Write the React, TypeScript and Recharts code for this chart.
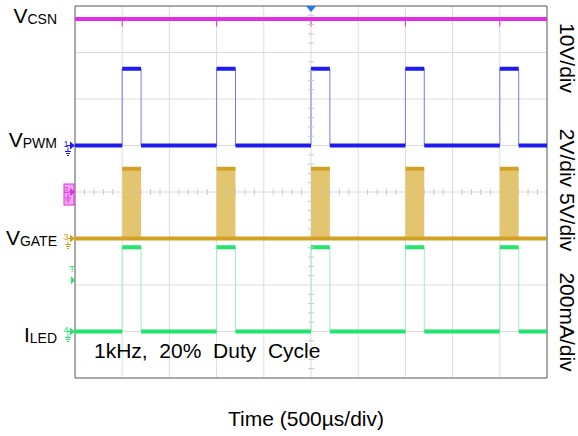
import React from 'react';
import {
  ComposedChart,
  Line,
  Area,
  Scatter,
  XAxis,
  YAxis,
  CartesianGrid,
  ReferenceArea,
  ReferenceDot,
} from 'recharts';

const FONT = '"Liberation Sans", Arial, Helvetica, sans-serif';

// ---- axes (500 µs/div horizontally, 8 vertical divisions) ----
const timeTicksUs = [-2500, -2000, -1500, -1000, -500, 0, 500, 1000, 1500, 2000, 2500];
const divTicks = [0, 1, 2, 3, 4, 5, 6, 7, 8];
const minorTimesUs = [
  -2400, -2300, -2200, -2100, -1900, -1800, -1700, -1600, -1400, -1300, -1200, -1100,
  -900, -800, -700, -600, -400, -300, -200, -100, 100, 200, 300, 400, 600, 700, 800, 900,
  1100, 1200, 1300, 1400, 1600, 1700, 1800, 1900, 2100, 2200, 2300, 2400,
];
const minorDivs = [
  0.2, 0.4, 0.6, 0.8, 1.2, 1.4, 1.6, 1.8, 2.2, 2.4, 2.6, 2.8, 3.2, 3.4, 3.6, 3.8,
  4.2, 4.4, 4.6, 4.8, 5.2, 5.4, 5.6, 5.8, 6.2, 6.4, 6.6, 6.8, 7.2, 7.4, 7.6, 7.8,
];

// ---- waveform values ----
const pulseStartUs = [-2000, -1000, 0, 1000, 2000];
const pulseEndUs = [-1800, -800, 200, 1200, 2200];

const vcsnV = 37.2;
const vcsnDipV = 35.6;
const pwmLowV = 0;
const pwmHighV = 3.3;
const gateLowV = 0;
const gateHighV = 7.5;
const ledLowMa = 0;
const ledHighMa = 362;
const ledTriggerMa = 220;

// channel scales: [min, max] over 8 divisions with ground position
const csnDomain = [-40, 40]; // 10 V/div, ground at centre
const pwmDomain = [-10, 6]; // 2 V/div
const gateDomain = [-15, 25]; // 5 V/div
const ledDomain = [-200, 1400]; // 200 mA/div

const T0 = timeTicksUs[0];
const T1 = timeTicksUs[timeTicksUs.length - 1];

type P = { t: number; v: number | null };

function stepWave(low: number, high: number): P[] {
  const pts: P[] = [{ t: T0, v: low }];
  pulseStartUs.forEach((s, i) => {
    const e = pulseEndUs[i];
    pts.push({ t: s, v: low }, { t: s, v: high }, { t: e, v: high }, { t: e, v: low });
  });
  pts.push({ t: T1, v: low });
  return pts;
}

function levelSegments(low: number, high: number): P[] {
  const pts: P[] = [{ t: T0, v: low }];
  pulseStartUs.forEach((s, i) => {
    const e = pulseEndUs[i];
    pts.push({ t: s, v: low }, { t: s, v: null }, { t: s, v: high }, { t: e, v: high }, { t: e, v: null }, { t: e, v: low });
  });
  pts.push({ t: T1, v: low });
  return pts;
}

function gateLevels(): P[] {
  const pts: P[] = [{ t: T0, v: gateLowV }, { t: T1, v: gateLowV }, { t: T1, v: null }];
  pulseStartUs.forEach((s, i) => {
    pts.push({ t: s, v: gateHighV }, { t: pulseEndUs[i], v: gateHighV }, { t: pulseEndUs[i], v: null });
  });
  return pts;
}

const csnThick: P[] = [{ t: T0, v: vcsnV }, { t: T1, v: vcsnV }];
const csnDips: P[] = pulseStartUs.flatMap((s) => [
  { t: s, v: vcsnV },
  { t: s, v: vcsnDipV },
  { t: s, v: null },
]);
const pwmEdges = stepWave(pwmLowV, pwmHighV);
const pwmLevels = levelSegments(pwmLowV, pwmHighV);
const gateFill = stepWave(gateLowV, gateHighV);
const gateLines = gateLevels();
const ledEdges = stepWave(ledLowMa, ledHighMa);
const ledLevels = levelSegments(ledLowMa, ledHighMa);

const hTickPts = minorTimesUs.map((t) => ({ t, g: 4 }));
const vTickPts = minorDivs.map((g) => ({ t: 0, g }));

const MAGENTA = '#e42ee4';
const BLUE = '#1c1cef';
const BLUE_EDGE = '#7a7af5';
const GOLD = '#d3a224';
const GOLD_FILL = '#e4c56f';
const GREEN = '#22e46e';
const GREEN_EDGE = '#9af2bd';

const GroundSym = ({ x, y, color }: { x: number; y: number; color: string }) => (
  <g stroke={color} strokeWidth={1}>
    <line x1={x} y1={y} x2={x} y2={y + 4} />
    <line x1={x - 3} y1={y + 4} x2={x + 3} y2={y + 4} />
    <line x1={x - 2} y1={y + 6} x2={x + 2} y2={y + 6} />
    <line x1={x - 1} y1={y + 8} x2={x + 1} y2={y + 8} />
  </g>
);

const makeMarker = (n: string, color: string, boxed?: boolean) => (p: any) => {
  const cx = p.cx;
  const cy = p.cy;
  return (
    <g>
      {boxed ? (
        <rect x={cx - 11} y={cy - 8} width={10} height={21} fill="#f3a6f3" stroke={color} strokeWidth={1} />
      ) : null}
      <text x={cx - 9} y={cy + 1} fontSize={9} fill={color} fontFamily={FONT} textAnchor="middle">
        {n}
      </text>
      <polygon points={`${cx - 5},${cy - 4} ${cx},${cy} ${cx - 5},${cy + 4}`} fill={color} />
      <line x1={cx - 8} y1={cy} x2={cx - 4} y2={cy} stroke={color} />
      <GroundSym x={cx - 7} y={cy + 2} color={color} />
    </g>
  );
};

const triggerLevelMarker = (p: any) => (
  <g>
    <text x={p.cx - 3} y={p.cy - 8} fontSize={9} fill={GREEN} fontFamily={FONT} textAnchor="middle">
      T
    </text>
    <polygon points={`${p.cx - 4},${p.cy - 4} ${p.cx},${p.cy} ${p.cx - 4},${p.cy + 4}`} fill={GREEN} />
  </g>
);

const triggerPosMarker = (p: any) => (
  <polygon points={`${p.cx - 5},${p.cy} ${p.cx + 5},${p.cy} ${p.cx},${p.cy + 6}`} fill="#2378e6" />
);

const hTick = (p: any) => <line x1={p.cx} y1={p.cy - 3} x2={p.cx} y2={p.cy + 3} stroke="#c8c8c8" strokeWidth={1} />;
const vTick = (p: any) => <line x1={p.cx - 3} y1={p.cy} x2={p.cx + 3} y2={p.cy} stroke="#c8c8c8" strokeWidth={1} />;

const W = 578;
const H = 436;

export default function App() {
  return (
    <div style={{ position: 'relative', width: W, height: H, background: '#fff', fontFamily: FONT }}>
      <style>{`body{margin:0;background:#fff}`}</style>
      <ComposedChart width={W} height={H} margin={{ top: 6, right: 31, bottom: 58, left: 75 }}>
        <XAxis
          dataKey="t"
          type="number"
          domain={[T0, T1]}
          ticks={timeTicksUs}
          allowDataOverflow
          hide
        />
        <YAxis yAxisId="grid" dataKey="g" type="number" domain={[0, 8]} ticks={divTicks} allowDataOverflow hide />
        <YAxis yAxisId="csn" type="number" domain={csnDomain} allowDataOverflow hide />
        <YAxis yAxisId="pwm" type="number" domain={pwmDomain} allowDataOverflow hide />
        <YAxis yAxisId="gate" type="number" domain={gateDomain} allowDataOverflow hide />
        <YAxis yAxisId="led" type="number" domain={ledDomain} allowDataOverflow hide />

        <CartesianGrid yAxisId="grid" stroke="#dcdcdc" strokeWidth={1} />
        <Scatter yAxisId="grid" data={hTickPts} shape={hTick} isAnimationActive={false} />
        <Scatter yAxisId="grid" data={vTickPts} shape={vTick} isAnimationActive={false} />

        <Area
          yAxisId="gate"
          data={gateFill}
          dataKey="v"
          type="linear"
          baseValue={0}
          stroke="none"
          fill={GOLD_FILL}
          fillOpacity={1}
          isAnimationActive={false}
        />
        <Line yAxisId="gate" data={gateLines} dataKey="v" type="linear" stroke={GOLD} strokeWidth={4} dot={false} connectNulls={false} isAnimationActive={false} />

        <Line yAxisId="csn" data={csnDips} dataKey="v" type="linear" stroke={MAGENTA} strokeWidth={1} dot={false} connectNulls={false} isAnimationActive={false} />
        <Line yAxisId="csn" data={csnThick} dataKey="v" type="linear" stroke={MAGENTA} strokeWidth={4} dot={false} isAnimationActive={false} />

        <Line yAxisId="pwm" data={pwmEdges} dataKey="v" type="linear" stroke={BLUE_EDGE} strokeWidth={1} dot={false} isAnimationActive={false} />
        <Line yAxisId="pwm" data={pwmLevels} dataKey="v" type="linear" stroke={BLUE} strokeWidth={4} dot={false} connectNulls={false} isAnimationActive={false} />

        <Line yAxisId="led" data={ledEdges} dataKey="v" type="linear" stroke={GREEN_EDGE} strokeWidth={1} dot={false} isAnimationActive={false} />
        <Line yAxisId="led" data={ledLevels} dataKey="v" type="linear" stroke={GREEN} strokeWidth={4} dot={false} connectNulls={false} isAnimationActive={false} />

        <ReferenceArea yAxisId="grid" x1={T0} x2={T1} y1={0} y2={8} fill="none" stroke="#666" strokeWidth={1} ifOverflow="visible" />

        <ReferenceDot yAxisId="grid" x={0} y={8} r={0} shape={triggerPosMarker} ifOverflow="visible" />
        <ReferenceDot yAxisId="pwm" x={T0} y={0} r={0} shape={makeMarker('1', BLUE)} ifOverflow="visible" />
        <ReferenceDot yAxisId="csn" x={T0} y={0} r={0} shape={makeMarker('2', MAGENTA, true)} ifOverflow="visible" />
        <ReferenceDot yAxisId="gate" x={T0} y={0} r={0} shape={makeMarker('3', GOLD)} ifOverflow="visible" />
        <ReferenceDot yAxisId="led" x={T0} y={ledTriggerMa} r={0} shape={triggerLevelMarker} ifOverflow="visible" />
        <ReferenceDot yAxisId="led" x={T0} y={0} r={0} shape={makeMarker('4', GREEN)} ifOverflow="visible" />
      </ComposedChart>

      <svg
        width={W}
        height={H}
        style={{ position: 'absolute', left: 0, top: 0, pointerEvents: 'none' }}
        fontFamily={FONT}
      >
        <text x={57} y={23} textAnchor="end" fill="#000">
          <tspan fontSize={21}>V</tspan>
          <tspan fontSize={14} dy={1}>CSN</tspan>
        </text>
        <text x={57} y={147} textAnchor="end" fill="#000">
          <tspan fontSize={21}>V</tspan>
          <tspan fontSize={14} dy={1}>PWM</tspan>
        </text>
        <text x={57} y={245} textAnchor="end" fill="#000">
          <tspan fontSize={21}>V</tspan>
          <tspan fontSize={14} dy={1}>GATE</tspan>
        </text>
        <text x={57} y={342} textAnchor="end" fill="#000">
          <tspan fontSize={21}>I</tspan>
          <tspan fontSize={14} dy={1}>LED</tspan>
        </text>

        <text x={94} y={358} fontSize={21} fill="#000" style={{ whiteSpace: 'pre' }}>
          {'1kHz,  20%  Duty  Cycle'}
        </text>

        <text x={306} y={426} fontSize={21} fill="#000" textAnchor="middle">
          Time (500µs/div)
        </text>

        <g fontSize={21} fill="#000">
          <text x={560} y={58} textAnchor="middle" transform="rotate(90 560 58)">
            10V/div
          </text>
          <text x={560} y={190} textAnchor="middle" transform="rotate(90 560 190)">
            2V/div 5V/div
          </text>
          <text x={560} y={322} textAnchor="middle" transform="rotate(90 560 322)">
            200mA/div
          </text>
        </g>
      </svg>
    </div>
  );
}
